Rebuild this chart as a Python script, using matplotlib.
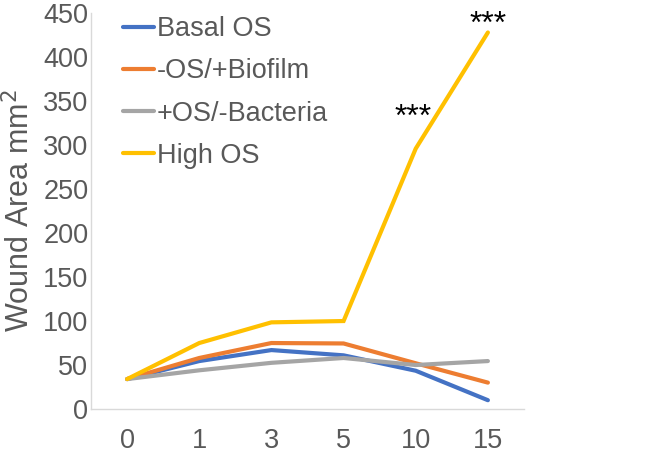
import numpy as np
import matplotlib
matplotlib.use("Agg")
import matplotlib.pyplot as plt

# --- Datos ---
days = ["0", "1", "3", "5", "10", "15"]
basal_os = [34, 54.5, 67, 61, 43.5, 10]
os_biofilm = [34, 58, 75, 74.5, 52, 30]
os_bacteria = [34, 44, 52.5, 58, 50, 54.5]
high_os = [34, 75, 98.5, 100, 296, 428]
signif = ["", "", "", "", "***", "***"]

series = [
    ("Basal OS", basal_os, "#4472C4"),
    ("-OS/+Biofilm", os_biofilm, "#ED7D31"),
    ("+OS/-Bacteria", os_bacteria, "#A5A5A5"),
    ("High OS", high_os, "#FFC000"),
]

plt.rcParams["font.family"] = ["Liberation Sans", "DejaVu Sans"]
txt_col = "#595959"

fig = plt.figure(figsize=(6.63, 4.54), dpi=100)
ax = fig.add_axes([0.1373, 0.0991, 0.653, 0.872])

x = np.arange(len(days))
for name, vals, col in series:
    ax.plot(x, vals, color=col, lw=3.0, label=name, solid_capstyle="round",
            solid_joinstyle="miter")

# asteriscos de significancia (desplazamiento en puntos)
offsets = {4: (-2, 16.5), 5: (0, 0)}
for i, s in enumerate(signif):
    if s:
        ax.annotate(s, (x[i], high_os[i]), xytext=offsets[i], textcoords="offset points",
                    ha="center", va="baseline", fontsize=23, color="black")

ax.set_xlim(-0.5, len(days) - 0.5)
ax.set_ylim(0, 450)
ax.set_yticks(np.arange(0, 451, 50))
ax.set_xticks(x)
ax.set_xticklabels(days)
ax.tick_params(length=0, labelsize=19.5, colors=txt_col)
ax.tick_params(axis="y", pad=2)
ax.tick_params(axis="x", pad=14)

for sp in ["top", "right"]:
    ax.spines[sp].set_visible(False)
for sp in ["left", "bottom"]:
    ax.spines[sp].set_color("#d9d9d9")
    ax.spines[sp].set_linewidth(1.0)

ax.set_ylabel("Wound Area mm$^2$", fontsize=22, color=txt_col)
ax.yaxis.set_label_coords((36 - 91) / 433, 0.5)

leg = ax.legend(loc="upper left", bbox_to_anchor=(0.048, 1.02), frameon=False,
                fontsize=19.5, handlelength=1.15, handletextpad=0.12,
                labelspacing=0.6, borderaxespad=0)
for t in leg.get_texts():
    t.set_color(txt_col)

fig.savefig("out.png", dpi=100)
